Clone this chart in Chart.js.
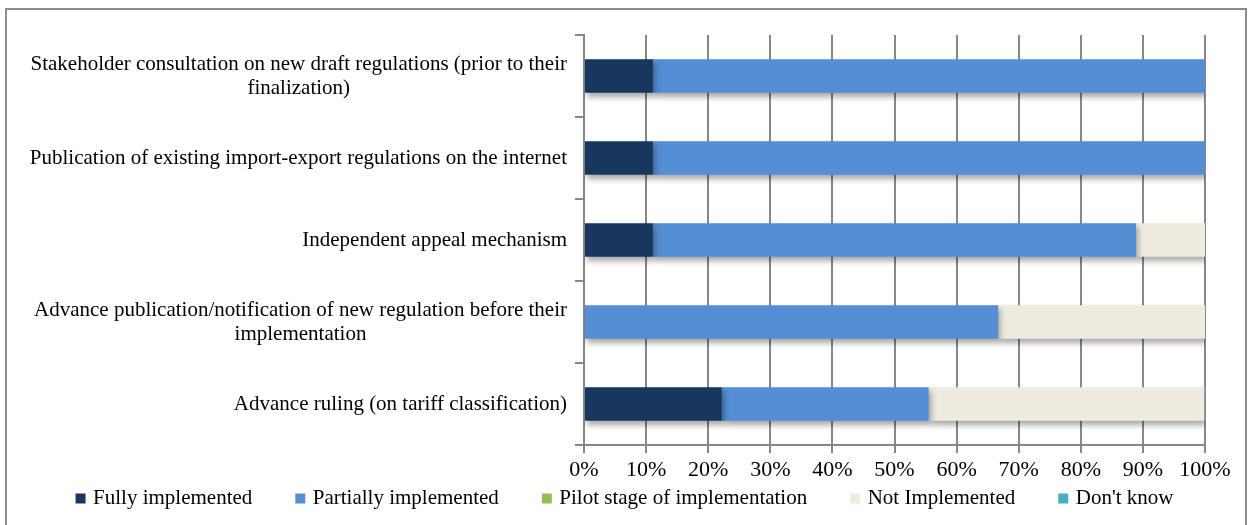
<!DOCTYPE html>
<html lang="en">
<head>
<meta charset="UTF-8">
<title>Implementation status</title>
<script src="https://cdn.jsdelivr.net/npm/chart.js"></script>
<style>
  html, body { margin: 0; padding: 0; background: #fff; }
  .wrap { position: relative; width: 1252px; height: 525px; overflow: hidden; }
  .frame { position: absolute; left: 5px; top: 8px; width: 1242px; height: 540px; border: 2px solid #8c8c8c; box-sizing: border-box; }
  canvas { position: absolute; left: 0; top: 0; }
</style>
</head>
<body>
<div class="wrap">
  <div class="frame"></div>
  <canvas id="myChart" width="1252" height="525"></canvas>
</div>
<script>
// categories, top to bottom
const categories = [
  ['Stakeholder consultation on new draft regulations (prior to their', 'finalization)'],
  ['Publication of existing import-export regulations on the internet'],
  ['Independent appeal mechanism'],
  ['Advance publication/notification of new regulation before their', 'implementation'],
  ['Advance ruling (on tariff classification)']
];

// shares in percent
const fully     = [11.1, 11.1, 11.1, 0, 22.2];
const partially = [88.9, 88.9, 77.8, 66.7, 33.3];
const pilot     = [0, 0, 0, 0, 0];
const notImpl   = [0, 0, 11.1, 33.3, 44.4];
const dontKnow  = [0, 0, 0, 0, 0];

const xTicks = [0, 10, 20, 30, 40, 50, 60, 70, 80, 90, 100];

const FONT = 'Liberation Serif, Times New Roman, serif';
const GRID = '#878787';

// bars get a soft drop shadow like the original
const shadowPlugin = {
  id: 'barShadow',
  beforeDatasetsDraw(chart) {
    const ctx = chart.ctx;
    ctx.save();
    ctx.shadowColor = 'rgba(0,0,0,0.35)';
    ctx.shadowBlur = 6;
    ctx.shadowOffsetX = 2;
    ctx.shadowOffsetY = 4;
  },
  afterDatasetsDraw(chart) {
    chart.ctx.restore();
  }
};

// axis texts drawn by hand (the x labels overlap the legend's top padding,
// and the category blocks are right aligned with centered lines)
const axisText = {
  id: 'axisText',
  afterDraw(chart) {
    const ctx = chart.ctx;
    const y = chart.scales.y;
    const x = chart.scales.x;
    const right = chart.chartArea.left - 17;
    ctx.save();
    ctx.fillStyle = '#000';
    ctx.textAlign = 'center';
    ctx.textBaseline = 'middle';
    ctx.font = '21px ' + FONT;
    categories.forEach((lines, i) => {
      const w = Math.max(...lines.map(l => ctx.measureText(l).width));
      const cx = right - w / 2;
      const lh = 24;
      const y0 = y.getPixelForTick(i) - (lines.length - 1) * lh / 2;
      lines.forEach((l, k) => ctx.fillText(l, cx, y0 + k * lh));
    });
    ctx.font = '22px ' + FONT;
    const ty = chart.chartArea.bottom + 25;
    x.ticks.forEach(t => ctx.fillText(t.value + '%', x.getPixelForValue(t.value), ty));
    ctx.restore();
  }
};

new Chart(document.getElementById('myChart'), {
  type: 'bar',
  data: {
    labels: categories,
    datasets: [
      { label: 'Fully implemented', data: fully, backgroundColor: '#17375e' },
      { label: 'Partially implemented', data: partially, backgroundColor: '#558ed5' },
      { label: 'Pilot stage of implementation', data: pilot, backgroundColor: '#9bbb59' },
      { label: 'Not Implemented', data: notImpl, backgroundColor: '#eeece1' },
      { label: "Don't know", data: dontKnow, backgroundColor: '#4bacc6' }
    ]
  },
  options: {
    indexAxis: 'y',
    responsive: false,
    animation: false,
    layout: { padding: { left: 0, right: 0, top: 35, bottom: 3 } },
    datasets: { bar: { categoryPercentage: 1, barPercentage: 0.41 } },
    scales: {
      x: {
        stacked: true,
        min: 0,
        max: 100,
        afterBuildTicks(axis) { axis.ticks = xTicks.map(v => ({ value: v })); },
        afterFit(axis) { axis.height = -3; },
        grid: { color: GRID, lineWidth: 2, tickLength: 8 },
        border: { color: GRID, width: 2 },
        ticks: { display: false }
      },
      y: {
        stacked: true,
        afterFit(axis) { axis.width = 584; },
        grid: { drawOnChartArea: false, color: GRID, lineWidth: 2, tickLength: 9 },
        border: { color: GRID, width: 2 },
        ticks: { display: false }
      },
      // empty strip on the right of the plot
      yRight: {
        type: 'category',
        position: 'right',
        afterFit(axis) { axis.width = 47; },
        grid: { display: false },
        border: { display: false },
        ticks: { display: false }
      }
    },
    plugins: {
      tooltip: { enabled: false },
      legend: {
        position: 'bottom',
        labels: {
          color: '#000',
          font: { family: FONT, size: 21 },
          usePointStyle: true,
          pointStyle: 'rect',
          boxWidth: 4,
          boxHeight: 10,
          padding: 46
        }
      }
    }
  },
  plugins: [shadowPlugin, axisText]
});
</script>
</body>
</html>
